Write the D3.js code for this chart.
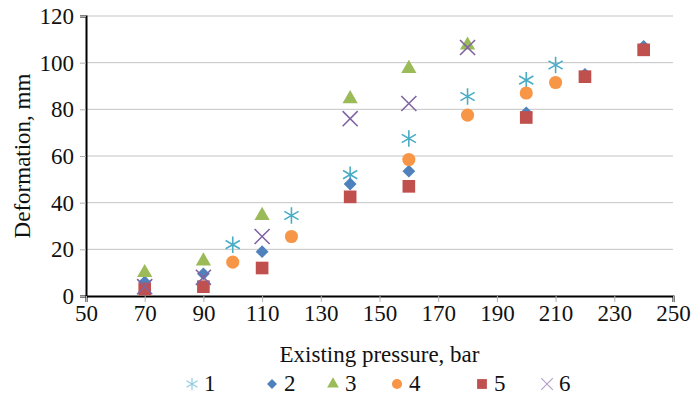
<!DOCTYPE html>
<html>
<head>
<meta charset="utf-8">
<script src="https://cdn.jsdelivr.net/npm/d3@7"></script>
<style>
  body { margin: 0; background: #fff; }
  svg { display: block; }
  text { font-family: "Liberation Serif", "Times New Roman", serif; fill: #111; }
</style>
</head>
<body>
<svg id="chart" width="700" height="403"></svg>
<script>
// values
const xTicks = [50, 70, 90, 110, 130, 150, 170, 190, 210, 230, 250];
const yTicks = [0, 20, 40, 60, 80, 100, 120];

const s1x = [100, 120, 140, 160, 180, 200, 210];
const s1y = [22, 34.5, 52, 67.5, 85.5, 92.5, 99];
const s2x = [70, 90, 110, 140, 160, 200, 220, 240];
const s2y = [6, 9.5, 19, 48, 53.5, 78.5, 95, 107];
const s3x = [70, 90, 110, 140, 160, 180];
const s3y = [10, 15, 34.5, 84.5, 97.5, 107.5];
const s4x = [100, 120, 160, 180, 200, 210];
const s4y = [14.5, 25.5, 58.5, 77.5, 87, 91.5];
const s5x = [70, 90, 110, 140, 160, 200, 220, 240];
const s5y = [3, 4, 12, 42.5, 47, 76.5, 94, 105.5];
const s6x = [70, 90, 110, 140, 160, 180];
const s6y = [4, 8, 25.5, 76, 82.5, 106.5];

const seriesNames = ["1", "2", "3", "4", "5", "6"];
const colors = ["#4bacc6", "#4f81bd", "#9bbb59", "#f79646", "#c0504d", "#8064a2"];

const series = [
  { name: "1", xs: s1x, ys: s1y, sym: d3.symbolAsterisk, size: 190, stroke: true },
  { name: "2", xs: s2x, ys: s2y, sym: d3.symbolDiamond2, size: 105, stroke: false },
  { name: "3", xs: s3x, ys: s3y, sym: d3.symbolTriangle, size: 100, stroke: false },
  { name: "4", xs: s4x, ys: s4y, sym: d3.symbolCircle, size: 135, stroke: false },
  { name: "5", xs: s5x, ys: s5y, sym: d3.symbolSquare, size: 160, stroke: false },
  { name: "6", xs: s6x, ys: s6y, sym: d3.symbolTimes, size: 150, stroke: true }
];

const svg = d3.select("#chart");
const margin = { top: 16, right: 27, bottom: 107, left: 86 };
const width = +svg.attr("width") - margin.left - margin.right;
const height = +svg.attr("height") - margin.top - margin.bottom;

const x = d3.scaleLinear().domain([50, 250]).range([0, width]);
const y = d3.scaleLinear().domain([0, 120]).range([height, 0]);

const g = svg.append("g")
  .attr("transform", `translate(${margin.left},${margin.top})`);

// gridlines
g.append("g")
  .selectAll("line")
  .data(yTicks.filter(d => d > 0))
  .enter().append("line")
  .attr("x1", 0)
  .attr("x2", width)
  .attr("y1", d => y(d))
  .attr("y2", d => y(d))
  .attr("stroke", "#c4c4c4")
  .attr("stroke-width", 1);

// y axis
const yAxis = g.append("g")
  .call(d3.axisLeft(y).tickValues(yTicks).tickSize(6).tickPadding(6));
yAxis.select(".domain").attr("stroke", "#000").attr("stroke-width", 2);
yAxis.selectAll(".tick line").attr("stroke", "#b0b0b0");
yAxis.selectAll(".tick text")
  .attr("font-size", 23)
  .attr("font-family", "Liberation Serif")
  .attr("fill", "#111");

// x axis
const xAxis = g.append("g")
  .attr("transform", `translate(0,${height})`)
  .call(d3.axisBottom(x).tickValues(xTicks).tickSize(6).tickPadding(3));
xAxis.select(".domain").attr("stroke", "#000").attr("stroke-width", 2);
xAxis.selectAll(".tick line").attr("stroke", "#b0b0b0");
xAxis.selectAll(".tick text")
  .attr("font-size", 23)
  .attr("font-family", "Liberation Serif")
  .attr("fill", "#111");

// points
series.forEach(function (s, i) {
  const pts = s.xs.map(function (v, j) { return [v, s.ys[j]]; });
  g.append("g")
    .selectAll("path")
    .data(pts)
    .enter().append("path")
    .attr("transform", function (d) { return `translate(${x(d[0])},${y(d[1])})`; })
    .attr("d", d3.symbol().type(s.sym).size(s.size))
    .attr("fill", s.stroke ? "none" : colors[i])
    .attr("stroke", s.stroke ? colors[i] : "none")
    .attr("stroke-width", s.stroke ? 1.6 : 0);
});

// axis titles
svg.append("text")
  .attr("transform", `translate(30,${margin.top + height / 2}) rotate(-90)`)
  .attr("text-anchor", "middle")
  .attr("font-size", 23)
  .text("Deformation, mm");

svg.append("text")
  .attr("x", margin.left + width / 2)
  .attr("y", 362)
  .attr("text-anchor", "middle")
  .attr("font-size", 23)
  .text("Existing pressure, bar");

// legend
const legX = [192, 272, 333, 397, 482, 547];
const legend = svg.append("g");
series.forEach(function (s, i) {
  legend.append("path")
    .attr("transform", `translate(${legX[i]},384)`)
    .attr("d", d3.symbol().type(s.sym).size(s.size * 0.6))
    .attr("fill", s.stroke ? "none" : colors[i])
    .attr("stroke", s.stroke ? colors[i] : "none")
    .attr("stroke-opacity", 0.6)
    .attr("stroke-width", s.stroke ? 1.2 : 0);
  legend.append("text")
    .attr("x", legX[i] + 12)
    .attr("y", 391)
    .attr("font-size", 23)
    .text(seriesNames[i]);
});
</script>
</body>
</html>
